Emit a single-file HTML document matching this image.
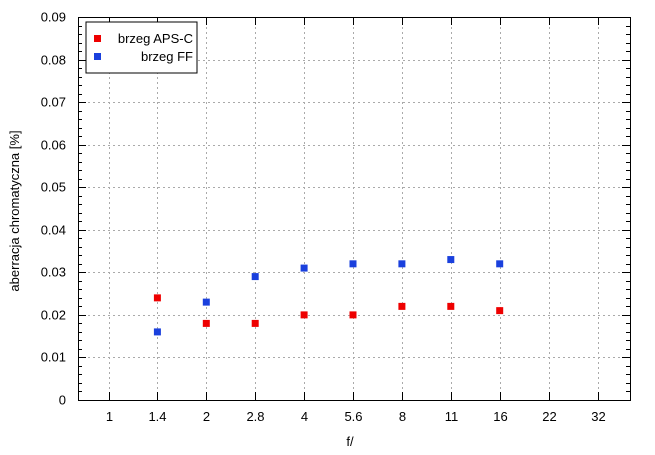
<!DOCTYPE html>
<html><head><meta charset="utf-8"><style>
body{margin:0;background:#fff;}
svg{display:block;font-family:"Liberation Sans",sans-serif;}
</style></head><body>
<svg id="chart" width="655" height="455" xmlns="http://www.w3.org/2000/svg">
<g id="grid"></g>
<g id="axes"></g>
<g id="marks"></g>
<text x="350" y="446" font-size="13" text-anchor="middle">f/</text>
<text transform="translate(19,211) rotate(-90)" font-size="13" text-anchor="middle">aberracja chromatyczna [%]</text>
<g>
<rect x="86" y="22" width="111" height="51" fill="#fff" stroke="#000" stroke-width="1"/>
<rect x="94" y="35" width="7" height="7" fill="#ee0000"/>
<text x="193" y="43" font-size="13" text-anchor="end">brzeg APS-C</text>
<rect x="94" y="53" width="7" height="7" fill="#1a40dd"/>
<text x="193" y="61" font-size="13" text-anchor="end">brzeg FF</text>
</g>
</svg>
<script>
const categories=["1","1.4","2","2.8","4","5.6","8","11","16","22","32"];
const apscCats=["1.4","2","2.8","4","5.6","8","11","16"];
const apscValues=[0.024,0.018,0.018,0.020,0.020,0.022,0.022,0.021];
const ffCats=["1.4","2","2.8","4","5.6","8","11","16"];
const ffValues=[0.016,0.023,0.029,0.031,0.032,0.032,0.033,0.032];
const yTicks=[0,0.01,0.02,0.03,0.04,0.05,0.06,0.07,0.08,0.09];
const yTickLabels=["0","0.01","0.02","0.03","0.04","0.05","0.06","0.07","0.08","0.09"];

const L=78,R=630,T=17,B=400,yMax=0.09;
const NS="http://www.w3.org/2000/svg";
function y(v){return B-(v/yMax)*(B-T);}
function x(c){const i=categories.indexOf(c);return 108.5+i*48.9;}
function mk(tag,attrs,parent){const e=document.createElementNS(NS,tag);for(const k in attrs)e.setAttribute(k,attrs[k]);parent.appendChild(e);return e;}
const grid=document.getElementById('grid'),axes=document.getElementById('axes'),marks=document.getElementById('marks');

yTicks.forEach((v,i)=>{
  const yy=Math.round(y(v))+0.5;
  if(v>0&&v<yMax){const g=mk('line',{x1:L,x2:R,y1:yy,y2:yy,stroke:'#aaa','stroke-dasharray':'2,3','stroke-width':1},grid);
  
  }
  const t=mk('line',{x1:L,x2:L+8,y1:yy,y2:yy,stroke:'#000'},axes);
  
  
  const t2=mk('line',{x1:R,x2:R-8,y1:yy,y2:yy,stroke:'#000'},axes);
  
  
  if(i<yTicks.length-1){for(let k=1;k<5;k++){const my=Math.round(y(v+k*0.002))+0.5;
    const m=mk('line',{x1:L,x2:L+4,y1:my,y2:my,stroke:'#000'},axes);
    
    
    const m2=mk('line',{x1:R,x2:R-4,y1:my,y2:my,stroke:'#000'},axes);
    
    }}
  const lb=mk('text',{x:L-12,y:yy+4,'font-size':13,'text-anchor':'end'},axes);
  lb.textContent=yTickLabels[i];
  
  
});
categories.forEach(c=>{
  const xx=Math.round(x(c))+0.5;
  const g=mk('line',{x1:xx,x2:xx,y1:T,y2:B,stroke:'#aaa','stroke-dasharray':'2,3'},grid);
  
  
  const t=mk('line',{x1:xx,x2:xx,y1:B,y2:B-8,stroke:'#000'},axes);
  
  
  const t2=mk('line',{x1:xx,x2:xx,y1:T,y2:T+8,stroke:'#000'},axes);
  
  
  const lb=mk('text',{x:xx,y:B+21,'font-size':13,'text-anchor':'middle'},axes);
  lb.textContent=c;
  
  
});
const frame=mk('rect',{x:L+0.5,y:T+0.5,width:R-L,height:B-T,fill:'none',stroke:'#000'},axes);



apscCats.forEach((c,i)=>{
  const r=mk('rect',{x:x(c)-3.5,y:y(apscValues[i])-3.5,width:7,height:7,fill:'#ee0000'},marks);
  
  
});
ffCats.forEach((c,i)=>{
  const r=mk('rect',{x:x(c)-3.5,y:y(ffValues[i])-3.5,width:7,height:7,fill:'#1a40dd'},marks);
  
  
});
</script>
</body></html>
